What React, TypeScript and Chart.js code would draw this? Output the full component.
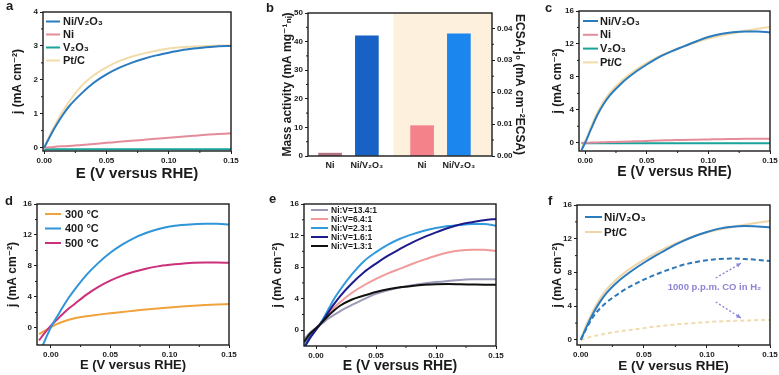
import React, { useEffect, useRef } from "react";
import { Chart, registerables } from "chart.js";
Chart.register(...registerables);

const FONT = "'Liberation Sans', Arial, Helvetica, 'DejaVu Sans', sans-serif";
const INK = "#1b1b1b";

// ---------------- DATA ----------------
// (a) j vs E, 0 - 0.15 V
const aE = [0, 0.005, 0.01, 0.015, 0.02, 0.03, 0.04, 0.05, 0.06, 0.07, 0.08, 0.09, 0.1, 0.11, 0.12, 0.13, 0.14, 0.15];
const aNiV2O3 = [0, 0.36, 0.68, 0.97, 1.22, 1.6, 1.92, 2.16, 2.35, 2.5, 2.62, 2.72, 2.8, 2.87, 2.92, 2.96, 2.99, 3.0];
const aNi = [0, 0.01, 0.03, 0.04, 0.05, 0.08, 0.11, 0.14, 0.17, 0.2, 0.23, 0.26, 0.29, 0.32, 0.35, 0.38, 0.4, 0.42];
const aV2O3 = [-0.05, -0.05, -0.05, -0.05, -0.05, -0.05, -0.05, -0.05, -0.05, -0.05, -0.05, -0.05, -0.05, -0.05, -0.05, -0.05, -0.05, -0.05];
const aPtC = [0, 0.4, 0.76, 1.08, 1.36, 1.82, 2.14, 2.37, 2.55, 2.68, 2.78, 2.86, 2.92, 2.96, 2.98, 3.0, 3.01, 3.02];
const aXTicks = [0, 0.05, 0.1, 0.15];
const aYTicks = [0, 1, 2, 3, 4];

// (b) bars
const bCategories = ["Ni", "Ni/V₂O₃", "Ni", "Ni/V₂O₃"];
const bMassActivity = [1.0, 42.0];
const bEcsaJ0 = [0.0095, 0.0383];
const bLeftTicks = [0, 10, 20, 30, 40, 50];
const bRightTicks = [0, 0.01, 0.02, 0.03, 0.04];

// (c)
const cE = [-0.003, 0, 0.005, 0.01, 0.015, 0.02, 0.03, 0.04, 0.05, 0.06, 0.07, 0.08, 0.09, 0.1, 0.11, 0.12, 0.13, 0.14, 0.15];
const cNiV2O3 = [-0.9, 0, 1.75, 3.4, 4.7, 5.75, 7.3, 8.5, 9.5, 10.4, 11.1, 11.7, 12.3, 12.85, 13.2, 13.42, 13.5, 13.5, 13.4];
const cNi = [0, 0, 0.02, 0.04, 0.06, 0.08, 0.12, 0.17, 0.22, 0.27, 0.31, 0.35, 0.38, 0.41, 0.44, 0.46, 0.48, 0.49, 0.5];
const cV2O3 = [-0.05, -0.05, -0.05, -0.05, -0.05, -0.05, -0.05, -0.05, -0.05, -0.05, -0.05, -0.05, -0.05, -0.05, -0.05, -0.05, -0.05, -0.05, -0.05];
const cPtC = [-0.7, 0.15, 2.0, 3.7, 5.0, 6.05, 7.6, 8.75, 9.7, 10.5, 11.15, 11.7, 12.2, 12.65, 13.0, 13.3, 13.6, 13.85, 14.05];
const cXTicks = [0, 0.05, 0.1, 0.15];
const cYTicks = [0, 4, 8, 12, 16];

// (d) annealing temperature
const dE = [-0.01, -0.005, 0, 0.005, 0.01, 0.015, 0.02, 0.03, 0.04, 0.05, 0.06, 0.07, 0.08, 0.09, 0.1, 0.11, 0.12, 0.13, 0.14, 0.15];
const d300 = [-0.8, -0.35, 0.1, 0.5, 0.8, 1.05, 1.25, 1.52, 1.72, 1.9, 2.06, 2.22, 2.38, 2.52, 2.64, 2.76, 2.86, 2.95, 3.02, 3.08];
const d400E = [-0.007, -0.005, 0, 0.005, 0.01, 0.015, 0.02, 0.03, 0.04, 0.05, 0.06, 0.07, 0.08, 0.09, 0.1, 0.11, 0.12, 0.13, 0.14, 0.15];
const d400 = [-2.3, -1.6, 0.1, 1.4, 2.7, 3.9, 4.95, 6.85, 8.4, 9.7, 10.75, 11.6, 12.25, 12.75, 13.1, 13.3, 13.4, 13.45, 13.45, 13.35];
const d500 = [-1.6, -0.6, 0.3, 1.05, 1.8, 2.5, 3.1, 4.3, 5.3, 6.1, 6.75, 7.25, 7.65, 7.95, 8.15, 8.3, 8.42, 8.45, 8.45, 8.42];
const dXTicks = [0, 0.05, 0.1, 0.15];
const dYTicks = [0, 4, 8, 12, 16];

// (e) Ni:V ratio
const eE = [-0.01, -0.005, 0, 0.005, 0.01, 0.015, 0.02, 0.03, 0.04, 0.05, 0.06, 0.07, 0.08, 0.09, 0.1, 0.11, 0.12, 0.13, 0.14, 0.15];
const e134 = [-1.2, -0.3, 0.3, 0.85, 1.45, 1.95, 2.4, 3.2, 3.95, 4.6, 5.05, 5.4, 5.7, 5.92, 6.1, 6.25, 6.38, 6.45, 6.47, 6.45];
const e64 = [-1.6, -0.55, 0.2, 1.1, 2.0, 2.85, 3.55, 4.75, 5.7, 6.5, 7.2, 7.8, 8.4, 8.95, 9.45, 9.85, 10.1, 10.2, 10.2, 10.05];
const e23 = [-2.0, -0.85, 0.1, 1.2, 2.55, 3.95, 5.1, 7.1, 8.75, 9.9, 10.85, 11.6, 12.15, 12.6, 12.95, 13.2, 13.35, 13.45, 13.45, 13.25];
const e16 = [-2.3, -1.0, 0.05, 1.05, 2.2, 3.3, 4.3, 5.95, 7.35, 8.45, 9.45, 10.3, 11.1, 11.8, 12.4, 12.95, 13.4, 13.7, 13.95, 14.1];
const e13 = [-1.5, -0.45, 0.25, 1.0, 1.8, 2.5, 3.1, 3.9, 4.4, 4.85, 5.2, 5.45, 5.62, 5.75, 5.83, 5.85, 5.83, 5.8, 5.77, 5.75];
const eXTicks = [0, 0.05, 0.1, 0.15];
const eYTicks = [0, 4, 8, 12, 16];

// (f) CO tolerance
const fE = [0, 0.005, 0.01, 0.015, 0.02, 0.03, 0.04, 0.05, 0.06, 0.07, 0.08, 0.09, 0.1, 0.11, 0.12, 0.13, 0.14, 0.15];
const fNiV2O3 = [0, 1.7, 3.2, 4.45, 5.5, 7.0, 8.15, 9.15, 10.05, 10.9, 11.65, 12.3, 12.8, 13.2, 13.42, 13.5, 13.45, 13.35];
const fPtC = [0.1, 1.95, 3.55, 4.85, 5.9, 7.4, 8.55, 9.5, 10.35, 11.1, 11.75, 12.3, 12.75, 13.1, 13.4, 13.65, 13.9, 14.1];
const fNiV2O3CO = [0, 1.5, 2.8, 3.7, 4.4, 5.5, 6.4, 7.15, 7.8, 8.35, 8.85, 9.2, 9.45, 9.6, 9.65, 9.6, 9.5, 9.35];
const fPtCCO = [0, 0.25, 0.45, 0.6, 0.75, 1.0, 1.2, 1.4, 1.6, 1.75, 1.9, 2.0, 2.1, 2.2, 2.25, 2.3, 2.35, 2.37];
const fXTicks = [0, 0.05, 0.1, 0.15];
const fYTicks = [0, 4, 8, 12, 16];
const fNoteText = "1000 p.p.m. CO in H₂";
const fNoteAt = [0.106, 6.2];
const fArrows = [
  [0.107, 7.35, 0.127, 9.1],
  [0.107, 4.5, 0.127, 2.6],
];

// ---------------- COLOURS ----------------
const C_NIV = "#2b7bbf";
const C_NI = "#e58c9b";
const C_V2O3 = "#1aa39a";
const C_PT = "#f2dba8";

// ---------------- LAYOUT ----------------
type Box = { cx: number; cy: number; cw: number; ch: number; L: number; T: number; R: number; B: number };
const boxA: Box = { cx: 0, cy: 0, cw: 262, ch: 185, L: 43, T: 12, R: 231, B: 151 };
const boxB: Box = { cx: 270, cy: 0, cw: 260, ch: 185, L: 308, T: 13, R: 492, B: 156 };
const boxC: Box = { cx: 540, cy: 0, cw: 260, ch: 185, L: 579, T: 11, R: 770, B: 151 };
const boxD: Box = { cx: 0, cy: 185, cw: 262, ch: 190, L: 37, T: 204, R: 229, B: 345 };
const boxE: Box = { cx: 262, cy: 185, cw: 270, ch: 190, L: 304, T: 204, R: 496, B: 346 };
const boxF: Box = { cx: 540, cy: 185, cw: 260, ch: 190, L: 577, T: 205, R: 770, B: 345 };
const bSlots = [0, 1, 2.5, 3.5];

const pts = (xs: number[], ys: number[]) => xs.map((x, i) => ({ x, y: ys[i] }));

function lineDs(label: string, xs: number[], ys: number[], color: string, dash: number[] = [], width = 2) {
  return {
    label,
    data: pts(xs, ys),
    borderColor: color,
    backgroundColor: color,
    borderWidth: width,
    borderDash: dash,
    pointRadius: 0,
    cubicInterpolationMode: "monotone",
    fill: false,
  };
}

function xAxis(box: Box, min: number, max: number, ticks: number[], title: string, titlePad: number, titleSize = 13) {
  return {
    type: "linear",
    position: "bottom",
    min,
    max,
    afterBuildTicks: (s: any) => {
      s.ticks = ticks.map((v) => ({ value: v }));
    },
    afterFit: (s: any) => {
      s.height = box.cy + box.ch - box.B;
    },
    grid: { drawOnChartArea: false, drawTicks: true, tickLength: 3, color: INK, lineWidth: 1 },
    border: { display: false },
    ticks: {
      font: { family: FONT, size: 8, weight: "bold" },
      color: INK,
      padding: 2,
      maxRotation: 0,
      autoSkip: false,
      callback: (v: any) => Number(v).toFixed(2),
    },
    title: {
      display: true,
      text: title,
      color: INK,
      font: { family: FONT, size: titleSize, weight: "bold", lineHeight: 1.2 },
      padding: { top: 0, bottom: titlePad },
    },
  };
}

function yAxis(box: Box, min: number, max: number, ticks: number[], title: string, titlePad: number, fmt = (v: number) => String(v), position = "left", width?: number) {
  return {
    type: "linear",
    position,
    min,
    max,
    afterBuildTicks: (s: any) => {
      s.ticks = ticks.map((v) => ({ value: v }));
    },
    afterFit: (s: any) => {
      s.width = width !== undefined ? width : box.L - box.cx;
    },
    grid: { drawOnChartArea: false, drawTicks: true, tickLength: 3, color: INK, lineWidth: 1 },
    border: { display: false },
    ticks: {
      font: { family: FONT, size: 8, weight: "bold" },
      color: INK,
      padding: 2,
      autoSkip: false,
      callback: (v: any) => fmt(Number(v)),
    },
    title: {
      display: true,
      text: title,
      color: INK,
      font: { family: FONT, size: 12, weight: "bold", lineHeight: 1.2 },
      padding: { top: titlePad, bottom: 0 },
    },
  };
}

function framePlugin(minorX = true) {
  return {
    id: "frame",
    afterDatasetsDraw(chart: any) {
      const { ctx, chartArea: a } = chart;
      ctx.save();
      ctx.strokeStyle = INK;
      ctx.lineWidth = 1.4;
      ctx.strokeRect(a.left, a.top, a.right - a.left, a.bottom - a.top);
      ctx.lineWidth = 1;
      for (const id of Object.keys(chart.scales)) {
        const s = chart.scales[id];
        if (s.isHorizontal() && !minorX) continue;
        const tv = s.ticks.map((t: any) => t.value);
        for (let i = 0; i < tv.length - 1; i++) {
          const p = s.getPixelForValue((tv[i] + tv[i + 1]) / 2);
          ctx.beginPath();
          if (s.isHorizontal()) {
            ctx.moveTo(p, a.bottom);
            ctx.lineTo(p, a.bottom + 2);
          } else if (s.position === "right") {
            ctx.moveTo(a.right, p);
            ctx.lineTo(a.right + 2, p);
          } else {
            ctx.moveTo(a.left, p);
            ctx.lineTo(a.left - 2, p);
          }
          ctx.stroke();
        }
      }
      ctx.restore();
    },
  };
}

type LegItem = { label: string; color: string; dash?: number[] };
function legendPlugin(items: LegItem[], dx: number, dy: number, rowH: number, len: number, gap: number, size: number) {
  return {
    id: "customLegend",
    afterDatasetsDraw(chart: any) {
      const { ctx, chartArea: a } = chart;
      ctx.save();
      ctx.font = `bold ${size}px ${FONT}`;
      ctx.textBaseline = "middle";
      ctx.textAlign = "left";
      items.forEach((it, i) => {
        const y = a.top + dy + i * rowH;
        const x = a.left + dx;
        ctx.strokeStyle = it.color;
        ctx.lineWidth = 2;
        ctx.setLineDash(it.dash || []);
        ctx.beginPath();
        ctx.moveTo(x, y);
        ctx.lineTo(x + len, y);
        ctx.stroke();
        ctx.setLineDash([]);
        ctx.fillStyle = INK;
        ctx.fillText(it.label, x + len + gap, y + 0.5);
      });
      ctx.restore();
    },
  };
}

function layoutFor(box: Box, rightPad?: number) {
  return {
    padding: {
      left: 0,
      top: box.T - box.cy,
      right: rightPad !== undefined ? rightPad : box.cx + box.cw - box.R,
      bottom: 0,
    },
  };
}

const baseOptions = {
  responsive: false,
  animation: false,
  devicePixelRatio: 1,
  events: [],
  plugins: { legend: { display: false }, tooltip: { enabled: false } },
};

// ---------------- CONFIGS ----------------
function configA() {
  return {
    type: "line",
    data: {
      datasets: [
        lineDs("Ni/V₂O₃", aE, aNiV2O3, C_NIV),
        lineDs("Ni", aE, aNi, C_NI),
        lineDs("V₂O₃", aE, aV2O3, C_V2O3),
        lineDs("Pt/C", aE, aPtC, C_PT),
      ],
    },
    options: {
      ...baseOptions,
      layout: layoutFor(boxA),
      scales: {
        x: xAxis(boxA, -0.001, 0.15, aXTicks, "E (V versus RHE)", 2, 15),
        y: yAxis(boxA, -0.1, 4, aYTicks, "j (mA cm⁻²)", 10),
      },
    },
    plugins: [
      framePlugin(),
      legendPlugin(
        [
          { label: "Ni/V₂O₃", color: C_NIV },
          { label: "Ni", color: C_NI },
          { label: "V₂O₃", color: C_V2O3 },
          { label: "Pt/C", color: C_PT },
        ],
        3, 9.5, 13, 14, 3, 11
      ),
    ],
  };
}

function configB() {
  const bgPlugin = {
    id: "ecsaBg",
    beforeDatasetsDraw(chart: any) {
      const { ctx, chartArea: a, scales } = chart;
      const x0 = scales.x.getPixelForValue((bSlots[1] + bSlots[2]) / 2 - 0.03);
      ctx.save();
      ctx.fillStyle = "#fdf0dc";
      ctx.fillRect(x0, a.top, a.right - x0, a.bottom - a.top);
      ctx.restore();
    },
  };
  return {
    type: "bar",
    data: {
      datasets: [
        {
          label: "Mass activity",
          data: bMassActivity.map((v, i) => ({ x: bSlots[i], y: v })),
          yAxisID: "y",
          backgroundColor: ["#b5707f", "#1762c4"],
          barThickness: 23,
          grouped: false,
        },
        {
          label: "ECSA-j0",
          data: bEcsaJ0.map((v, i) => ({ x: bSlots[i + 2], y: v })),
          yAxisID: "y1",
          backgroundColor: ["#f4828a", "#1b86ee"],
          barThickness: 23,
          grouped: false,
        },
      ],
    },
    options: {
      ...baseOptions,
      layout: layoutFor(boxB, 0),
      scales: {
        x: {
          type: "linear",
          position: "bottom",
          min: -0.6,
          max: 4.4,
          offset: false,
          afterBuildTicks: (s: any) => {
            s.ticks = bSlots.map((v) => ({ value: v }));
          },
          afterFit: (s: any) => {
            s.height = boxB.cy + boxB.ch - boxB.B;
          },
          grid: { display: false, drawOnChartArea: false, drawTicks: false },
          border: { display: false },
          ticks: {
            font: { family: FONT, size: 9, weight: "bold" },
            color: INK,
            padding: 4,
            maxRotation: 0,
            autoSkip: false,
            callback: (_v: any, i: number) => bCategories[i],
          },
        },
        y: yAxis(boxB, 0, 50, bLeftTicks, "Mass activity (mA mg⁻¹ₙᵢ)", 10),
        y1: yAxis(boxB, 0, 0.0448, bRightTicks, "ECSA-j₀ (mA cm⁻²ECSA)", 3, (v) => v.toFixed(2), "right", boxB.cx + boxB.cw - boxB.R),
      },
    },
    plugins: [bgPlugin, framePlugin(false)],
  };
}

function configC() {
  return {
    type: "line",
    data: {
      datasets: [
        lineDs("Ni/V₂O₃", cE, cNiV2O3, C_NIV),
        lineDs("Ni", cE, cNi, C_NI),
        lineDs("V₂O₃", cE, cV2O3, C_V2O3),
        lineDs("Pt/C", cE, cPtC, C_PT),
      ],
    },
    options: {
      ...baseOptions,
      layout: layoutFor(boxC),
      scales: {
        x: xAxis(boxC, -0.005, 0.15, cXTicks, "E (V versus RHE)", 4, 14),
        y: yAxis(boxC, -1, 16, cYTicks, "j (mA cm⁻²)", 10),
      },
    },
    plugins: [
      framePlugin(),
      legendPlugin(
        [
          { label: "Ni/V₂O₃", color: C_NIV },
          { label: "Ni", color: C_NI },
          { label: "V₂O₃", color: C_V2O3 },
          { label: "Pt/C", color: C_PT },
        ],
        4, 10, 13.8, 15, 2, 11
      ),
    ],
  };
}

function configD() {
  return {
    type: "line",
    data: {
      datasets: [
        lineDs("400 °C", d400E, d400, "#2f95d8"),
        lineDs("500 °C", dE, d500, "#cc2f7b"),
        lineDs("300 °C", dE, d300, "#f0a23c"),
      ],
    },
    options: {
      ...baseOptions,
      layout: layoutFor(boxD),
      scales: {
        x: xAxis(boxD, -0.0117, 0.15, dXTicks, "E (V versus RHE)", 1.5, 13),
        y: yAxis(boxD, -2.2, 16, dYTicks, "j (mA cm⁻²)", 5),
      },
    },
    plugins: [
      framePlugin(),
      legendPlugin(
        [
          { label: "300 °C", color: "#f0a23c" },
          { label: "400 °C", color: "#2f95d8" },
          { label: "500 °C", color: "#cc2f7b" },
        ],
        8, 10, 14.5, 16, 4, 11
      ),
    ],
  };
}

function configE() {
  return {
    type: "line",
    data: {
      datasets: [
        lineDs("Ni:V=1.3:1", eE, e13, "#111111"),
        lineDs("Ni:V=1.6:1", eE, e16, "#1c1c8c"),
        lineDs("Ni:V=2.3:1", eE, e23, "#3399dd"),
        lineDs("Ni:V=6.4:1", eE, e64, "#f09a9a"),
        lineDs("Ni:V=13.4:1", eE, e134, "#9a9ab8"),
      ],
    },
    options: {
      ...baseOptions,
      layout: layoutFor(boxE),
      scales: {
        x: xAxis(boxE, -0.01, 0.15, eXTicks, "E (V versus RHE)", 0.5, 14),
        y: yAxis(boxE, -2, 16, eYTicks, "j (mA cm⁻²)", 8),
      },
    },
    plugins: [
      framePlugin(),
      legendPlugin(
        [
          { label: "Ni:V=13.4:1", color: "#9a9ab8" },
          { label: "Ni:V=6.4:1", color: "#f09a9a" },
          { label: "Ni:V=2.3:1", color: "#3399dd" },
          { label: "Ni:V=1.6:1", color: "#1c1c8c" },
          { label: "Ni:V=1.3:1", color: "#111111" },
        ],
        7, 6, 9, 17, 3, 8.5
      ),
    ],
  };
}

function configF() {
  const note = {
    id: "coNote",
    afterDatasetsDraw(chart: any) {
      const { ctx, scales } = chart;
      const X = (v: number) => scales.x.getPixelForValue(v);
      const Y = (v: number) => scales.y.getPixelForValue(v);
      ctx.save();
      ctx.fillStyle = "#8c84d4";
      ctx.strokeStyle = "#8c84d4";
      ctx.font = `bold 9.5px ${FONT}`;
      ctx.textAlign = "center";
      ctx.textBaseline = "middle";
      ctx.fillText(fNoteText, X(fNoteAt[0]), Y(fNoteAt[1]));
      for (const [x0, y0, x1, y1] of fArrows) {
        const px0 = X(x0), py0 = Y(y0), px1 = X(x1), py1 = Y(y1);
        ctx.lineWidth = 1.3;
        ctx.setLineDash([2, 2]);
        ctx.beginPath();
        ctx.moveTo(px0, py0);
        ctx.lineTo(px1, py1);
        ctx.stroke();
        ctx.setLineDash([]);
        const ang = Math.atan2(py1 - py0, px1 - px0);
        ctx.beginPath();
        ctx.moveTo(px1, py1);
        ctx.lineTo(px1 - 5 * Math.cos(ang - 0.45), py1 - 5 * Math.sin(ang - 0.45));
        ctx.lineTo(px1 - 5 * Math.cos(ang + 0.45), py1 - 5 * Math.sin(ang + 0.45));
        ctx.closePath();
        ctx.fill();
      }
      ctx.restore();
    },
  };
  return {
    type: "line",
    data: {
      datasets: [
        lineDs("Ni/V₂O₃", fE, fNiV2O3, C_NIV),
        lineDs("Ni/V₂O₃ + CO", fE, fNiV2O3CO, "#2f78b8", [5, 3]),
        lineDs("Pt/C", fE, fPtC, "#eed6a8"),
        lineDs("Pt/C + CO", fE, fPtCCO, "#f0dcae", [4, 3]),
      ],
    },
    options: {
      ...baseOptions,
      layout: layoutFor(boxF),
      scales: {
        x: xAxis(boxF, -0.003, 0.15, fXTicks, "E (V versus RHE)", 1, 13.5),
        y: yAxis(boxF, -0.6, 16, fYTicks, "j (mA cm⁻²)", 10),
      },
    },
    plugins: [
      framePlugin(),
      note,
      legendPlugin(
        [
          { label: "Ni/V₂O₃", color: C_NIV },
          { label: "Pt/C", color: "#eed6a8" },
        ],
        8, 12, 15, 17, 2, 11.5
      ),
    ],
  };
}

function Panel({ box, make }: { box: Box; make: () => any }) {
  const ref = useRef<HTMLCanvasElement>(null);
  useEffect(() => {
    const chart = new Chart(ref.current as HTMLCanvasElement, make());
    return () => chart.destroy();
  }, []);
  return (
    <canvas
      ref={ref}
      width={box.cw}
      height={box.ch}
      style={{ position: "absolute", left: box.cx, top: box.cy, width: box.cw, height: box.ch }}
    />
  );
}

const letterStyle = (left: number, top: number): React.CSSProperties => ({
  position: "absolute",
  left,
  top,
  font: `bold 13px ${FONT}`,
  lineHeight: "13px",
  color: INK,
});

export default function App() {
  return (
    <div
      style={{
        position: "absolute",
        left: 0,
        top: 0,
        width: 779,
        height: 375,
        overflow: "hidden",
        background: "#ffffff",
      }}
    >
      <Panel box={boxA} make={configA} />
      <Panel box={boxB} make={configB} />
      <Panel box={boxC} make={configC} />
      <Panel box={boxD} make={configD} />
      <Panel box={boxE} make={configE} />
      <Panel box={boxF} make={configF} />
      <span style={letterStyle(6, -1)}>a</span>
      <span style={letterStyle(266, 1)}>b</span>
      <span style={letterStyle(545, 1)}>c</span>
      <span style={letterStyle(5, 194)}>d</span>
      <span style={letterStyle(269, 192)}>e</span>
      <span style={letterStyle(548, 194)}>f</span>
    </div>
  );
}
